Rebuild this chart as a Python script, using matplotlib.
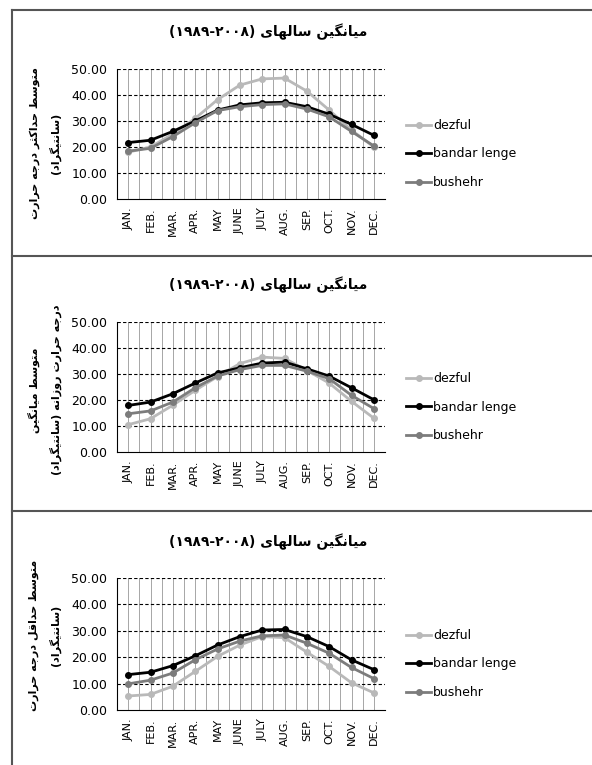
import matplotlib
matplotlib.use("Agg")
import matplotlib.pyplot as plt
from matplotlib.lines import Line2D

# months and station series (temperature, deg C)
months = ["JAN.", "FEB.", "MAR.", "APR.", "MAY", "JUNE", "JULY", "AUG.", "SEP.", "OCT.", "NOV.", "DEC."]
stations = ["dezful", "bandar lenge", "bushehr"]

dezful_max = [18.0, 20.0, 25.0, 31.0, 38.2, 43.8, 46.2, 46.5, 41.5, 34.2, 26.5, 20.0]
bandar_max = [21.7, 22.6, 26.0, 30.0, 34.2, 36.2, 37.0, 37.2, 35.5, 32.6, 28.7, 24.5]
bushehr_max = [18.4, 19.5, 24.0, 29.3, 34.0, 35.5, 36.3, 36.6, 34.6, 31.6, 26.0, 20.4]

dezful_mean = [10.5, 12.8, 18.0, 23.7, 29.0, 34.0, 36.5, 36.0, 31.4, 26.5, 19.5, 13.0]
bandar_mean = [17.9, 19.2, 22.4, 26.5, 30.4, 32.4, 34.2, 34.6, 32.0, 29.2, 24.7, 20.1]
bushehr_mean = [14.7, 15.8, 19.2, 24.7, 29.2, 31.7, 33.3, 33.3, 31.1, 28.2, 21.8, 16.7]

dezful_min = [5.3, 5.9, 9.0, 14.6, 20.3, 24.6, 27.8, 27.4, 21.9, 16.5, 10.3, 6.5]
bandar_min = [13.4, 14.3, 16.8, 20.5, 24.6, 27.8, 30.3, 30.5, 27.8, 24.0, 19.0, 15.3]
bushehr_min = [9.9, 11.3, 14.0, 19.0, 23.1, 26.1, 28.1, 28.4, 25.3, 21.5, 16.1, 11.9]

yticks = [0, 10, 20, 30, 40, 50]
colors = ["#b9b9b9", "#000000", "#7c7c7c"]

# farsi text needs hand shaping (matplotlib has no bidi / joining)
FORMS = {
    'ا': ('\uFE8D', '\uFE8E'),
    'د': ('\uFEA9', '\uFEAA'),
    'ر': ('\uFEAD', '\uFEAE'),
    'ز': ('\uFEAF', '\uFEB0'),
    'و': ('\uFEED', '\uFEEE'),
    'ت': ('\uFE95', '\uFE96', '\uFE97', '\uFE98'),
    'ث': ('\uFE99', '\uFE9A', '\uFE9B', '\uFE9C'),
    'ج': ('\uFE9D', '\uFE9E', '\uFE9F', '\uFEA0'),
    'ح': ('\uFEA1', '\uFEA2', '\uFEA3', '\uFEA4'),
    'س': ('\uFEB1', '\uFEB2', '\uFEB3', '\uFEB4'),
    'ط': ('\uFEC1', '\uFEC2', '\uFEC3', '\uFEC4'),
    'ق': ('\uFED5', '\uFED6', '\uFED7', '\uFED8'),
    'ل': ('\uFEDD', '\uFEDE', '\uFEDF', '\uFEE0'),
    'م': ('\uFEE1', '\uFEE2', '\uFEE3', '\uFEE4'),
    'ن': ('\uFEE5', '\uFEE6', '\uFEE7', '\uFEE8'),
    'ه': ('\uFEE9', '\uFEEA', '\uFEEB', '\uFEEC'),
    'ی': ('\uFBFC', '\uFBFD', '\uFBFE', '\uFBFF'),
    'ک': ('\uFB8E', '\uFB8F', '\uFB90', '\uFB91'),
    'گ': ('\uFB92', '\uFB93', '\uFB94', '\uFB95'),
}


def fa(text):
    out = []
    for i, ch in enumerate(text):
        if ch not in FORMS:
            out.append(ch)
            continue
        prev = text[i - 1] if i > 0 else ''
        nxt = text[i + 1] if i + 1 < len(text) else ''
        jp = prev in FORMS and len(FORMS[prev]) == 4
        jn = len(FORMS[ch]) == 4 and nxt in FORMS
        f = FORMS[ch]
        if jp and jn:
            out.append(f[3])
        elif jp:
            out.append(f[1])
        elif jn:
            out.append(f[2])
        else:
            out.append(f[0])
    s = ''.join(out)[::-1]
    return s.translate(str.maketrans('()', ')('))


title = "(۱۹۸۹-۲۰۰۸) " + fa("میانگین سالهای")
ylabels = [
    fa("متوسط حداکثر درجه حرارت") + "\n" + fa("(سانتیگراد)"),
    fa("متوسط میانگین") + "\n" + fa("درجه حرارت روزانه (سانتیگراد)"),
    fa("متوسط حداقل درجه حرارت") + "\n" + fa("(سانتیگراد)"),
]

panels = [
    [dezful_max, bandar_max, bushehr_max],
    [dezful_mean, bandar_mean, bushehr_mean],
    [dezful_min, bandar_min, bushehr_min],
]

W, H = 592, 765
fig = plt.figure(figsize=(W / 100, H / 100), dpi=100)

# pixel layout of the three panels: axes top/bottom, title y, legend centre y, label y
ax_top = [69, 322, 578]
ax_bot = [199, 452, 710]
title_y = [32, 285, 542]
leg_y = [154, 407, 664]
lab_y = [143, 390, 635]
ax_left, ax_right = 117, 385

for k in range(3):
    ax = fig.add_axes([ax_left / W, 1 - ax_bot[k] / H, (ax_right - ax_left) / W,
                       (ax_bot[k] - ax_top[k]) / H])
    x = list(range(len(months)))

    # vertical grid: month centres and boundaries
    for v in [i * 0.5 - 0.5 for i in range(25)]:
        ax.axvline(v, color="#a6a6a6", lw=0.7, zorder=0)
    for t in yticks[1:]:
        ax.axhline(t, color="black", lw=0.8, ls=(0, (3, 2)), zorder=1)

    for vals, c, name in zip(panels[k], colors, stations):
        ax.plot(x, vals, color=c, lw=2, marker="o", ms=4, label=name, zorder=3)

    ax.set_xlim(-0.5, 11.5)
    ax.set_ylim(0, 50)
    ax.set_yticks(yticks)
    ax.set_yticklabels(["%.2f" % t for t in yticks], fontsize=9)
    ax.set_xticks(x)
    ax.set_xticklabels(months, rotation=90, fontsize=8)
    ax.tick_params(axis="both", length=0)
    ax.tick_params(axis="y", pad=7)
    ax.tick_params(axis="x", pad=6)
    for s in ["top", "right"]:
        ax.spines[s].set_visible(False)
    ax.spines["left"].set_color("black")
    ax.spines["bottom"].set_color("black")

    fig.text(268 / W, 1 - title_y[k] / H, title, ha="center", va="center",
             fontsize=10, fontweight="bold", family="DejaVu Sans")
    fig.text(45 / W, 1 - lab_y[k] / H, ylabels[k], ha="center", va="center",
             rotation=90, multialignment="center", fontsize=8,
             fontweight="bold", family="DejaVu Sans", linespacing=1.9)

    handles = [Line2D([0], [0], color=c, lw=2, marker="o", ms=4) for c in colors]
    ax.legend(handles, stations, loc="center left",
              bbox_to_anchor=(406 / W, 1 - leg_y[k] / H), bbox_transform=fig.transFigure,
              frameon=False, fontsize=9, handlelength=2.0, handletextpad=0.15,
              labelspacing=1.25, borderpad=0, borderaxespad=0)

# panel frames
frame_c = "#555555"
for yy in [10, 256, 511]:
    fig.add_artist(Line2D([12 / W, 1], [1 - yy / H, 1 - yy / H], color=frame_c, lw=1.5))
fig.add_artist(Line2D([12 / W, 12 / W], [1 - 10 / H, 0], color=frame_c, lw=1.5))

fig.savefig("out.png", dpi=100)
